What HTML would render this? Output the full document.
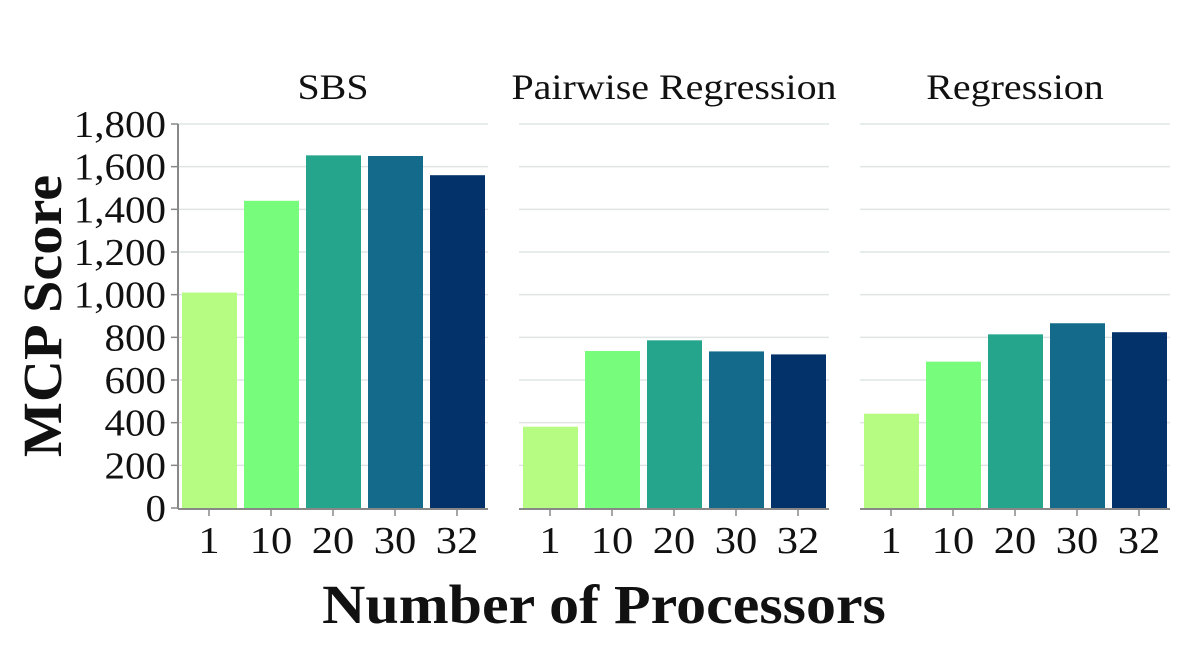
<!DOCTYPE html>
<html><head><meta charset="utf-8"><style>
body{margin:0;background:#fff;}
svg{display:block;font-family:"Liberation Serif",serif;}
</style></head><body>
<svg id="chart" width="1200" height="664"></svg>
<script>
const categories=["1","10","20","30","32"];
const panels=["SBS","Pairwise Regression","Regression"];
const sbsValues=[1010,1440,1653,1650,1560];
const pairwiseValues=[381,736,786,734,720];
const regressionValues=[442,686,814,866,824];
const yTicks=[0,200,400,600,800,1000,1200,1400,1600,1800];
const yTickLabels=["0","200","400","600","800","1,000","1,200","1,400","1,600","1,800"];
const colors=["#b6fb82","#78fc7c","#25a58c","#136a8b","#03316a"];
const series=[sbsValues,pairwiseValues,regressionValues];
const NS="http://www.w3.org/2000/svg";
const svg=document.getElementById("chart");
const y0=508,y1=124,yMax=1800;
const y=v=>y0-(v/yMax)*(y0-y1);
const panelX=[178,519,860],panelW=310;
const band=panelW/categories.length;
const x=(p,i)=>panelX[p]+i*band;
function mk(tag,attrs,text){const e=document.createElementNS(NS,tag);for(const k in attrs)e.setAttribute(k,attrs[k]);if(text!=null)e.textContent=text;svg.appendChild(e);return e;}
function txt(tx,ty,sx,sy,anchor,size,weight,text){
  return mk("text",{x:0,y:0,"text-anchor":anchor,"font-size":size,"font-weight":weight,fill:"#111",transform:`translate(${tx},${ty}) scale(${sx},${sy})`},text);
}
panels.forEach((name,p)=>{
  yTicks.forEach((t,k)=>{if(t>0){const g=mk("line",{x1:panelX[p],x2:panelX[p]+panelW,y1:y(t),y2:y(t),stroke:"#dfe5e5","stroke-width":1.5});
  
  }});
  series[p].forEach((v,i)=>{
    const r=mk("rect",{x:x(p,i)+4,y:y(v),width:band-7,height:y0-y(v),fill:colors[i]});
    
    
    const tk=mk("line",{x1:x(p,i)+band/2,x2:x(p,i)+band/2,y1:y0+1,y2:y0+8,stroke:"#888","stroke-width":1.5});
    
    
    const tl=txt(x(p,i)+band/2,553,1.12,1,"middle",38,"normal",categories[i]);
    
    
  });
  const ax=mk("line",{x1:panelX[p],x2:panelX[p]+panelW,y1:y0+1,y2:y0+1,stroke:"#888","stroke-width":2});
  
  
  const tt=txt(panelX[p]+panelW/2,99,1.11,1,"middle",36,"normal",name);
  
  
});
const yl=mk("line",{x1:178,x2:178,y1:y1,y2:y0+1,stroke:"#888","stroke-width":2});


yTicks.forEach((t,k)=>{
  const tk=mk("line",{x1:171,x2:178,y1:y(t),y2:y(t),stroke:"#888","stroke-width":1.5});
  
  
  const tl=txt(166,y(t)+13,1.08,1,"end",38,"normal",yTickLabels[k]);
  
  
});
const xt=txt(604,623,1.09,1,"middle",55,"bold","Number of Processors");


const yt=mk("text",{x:0,y:0,"text-anchor":"middle","font-size":54,"font-weight":"bold",fill:"#111",transform:"translate(61,316) rotate(-90) scale(1.08,1.02)"},"MCP Score");


</script>
</body></html>
